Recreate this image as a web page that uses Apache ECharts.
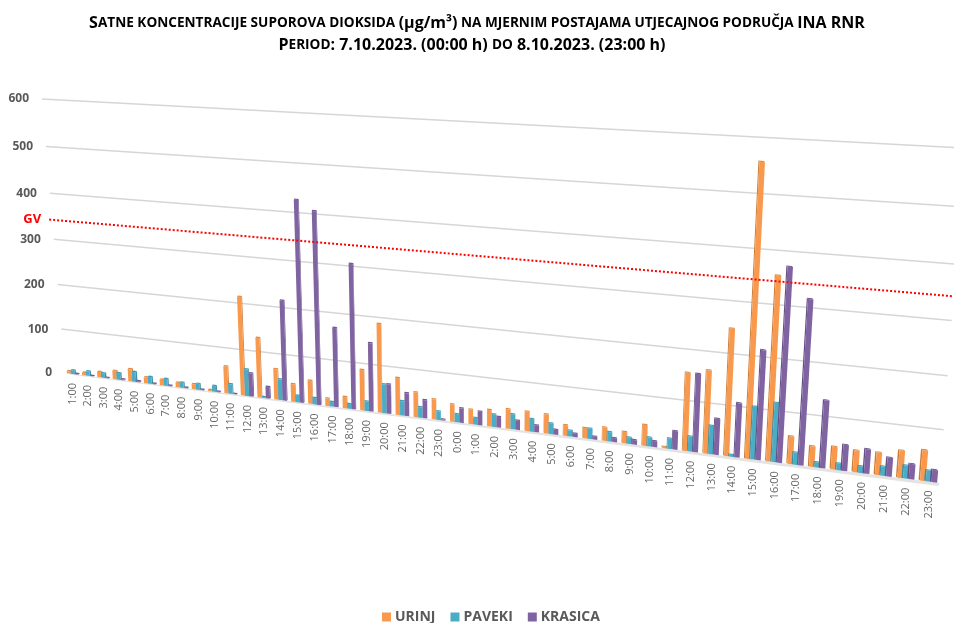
<!DOCTYPE html>
<html>
<head>
<meta charset="utf-8">
<style>html,body{margin:0;padding:0;background:#fff}#c{width:954px;height:623px}</style>
<script src="https://cdn.jsdelivr.net/npm/echarts@6/dist/echarts.min.js"></script>
</head>
<body>
<div id="c"></div>
<script>
const categories = ['1:00','2:00','3:00','4:00','5:00','6:00','7:00','8:00','9:00','10:00','11:00','12:00','13:00','14:00','15:00','16:00','17:00','18:00','19:00','20:00','21:00','22:00','23:00',
  '0:00','1:00','2:00','3:00','4:00','5:00','6:00','7:00','8:00','9:00','10:00','11:00','12:00','13:00','14:00','15:00','16:00','17:00','18:00','19:00','20:00','21:00','22:00','23:00'];
const urinj = [5,6,12,19,27,13,12,10,11,3,59,213,129,66,38,50,16,24,86,186,78,52,42,
  36,30,34,40,40,39,22,21,27,23,42,3,154,163,247,556,353,54,40,44,42,43,52,58];
const paveki = [8,10,10,15,22,15,15,11,13,13,21,58,2,45,14,14,10,10,20,61,30,22,18,
  17,14,26,31,26,22,12,21,19,13,18,21,30,56,4,103,115,24,10,13,13,18,25,21];
const krasica = [1,1,1,2,2,1,1,1,1,1,1,50,25,214,425,405,168,304,144,62,48,38,2,
  30,28,22,19,14,10,7,6,8,9,12,37,154,71,106,212,371,315,130,50,47,36,29,23];
const yTicks = [0,100,200,300,400,500,600];
const limitValue = 343;
const limitLabel = 'GV';
const seriesNames = ['URINJ','PAVEKI','KRASICA'];
const titleLine1 = '{b|S}{s|ATNE KONCENTRACIJE SUPOROVA DIOKSIDA }{b|(µg/m³)}{s| NA MJERNIM POSTAJAMA UTJECAJNOG PODRUČJA }{b|INA RNR}';
const titleLine2 = '{b|P}{s|ERIOD}{b|: 7.10.2023. (00:00 h) }{s|DO}{b| 8.10.2023. (23:00 h)}';

// Perspective of the chart wall: where the flat plot rectangle lands on the page.
const wall = {tl:[42,99], tr:[964,148], br:[940,483], bl:[65,373]};
const flat = {left:100, top:100, width:700, height:400};
const H = (function(){
  const [x0,y0]=wall.tl,[x1,y1]=wall.tr,[x2,y2]=wall.br,[x3,y3]=wall.bl;
  const dx1=x1-x2,dx2=x3-x2,sx=x0-x1+x2-x3,dy1=y1-y2,dy2=y3-y2,sy=y0-y1+y2-y3;
  const den=dx1*dy2-dx2*dy1;
  const g=(sx*dy2-dx2*sy)/den,h=(dx1*sy-sx*dy1)/den;
  const a=x1-x0+g*x1,b=x3-x0+h*x3,c=x0,d=y1-y0+g*y1,e=y3-y0+h*y3,f=y0;
  return (u,v)=>{const w=g*u+h*v+1;return [(a*u+b*v+c)/w,(d*u+e*v+f)/w];};
})();
const toU = px => (px-flat.left)/flat.width;
const toV = py => (py-flat.top)/flat.height;

const TEXT='#595959', FONT='"Open Sans",sans-serif';
const palette = [
  {front:'#F9994D', side:'#CC7C36', top:'#DE8A3E'},
  {front:'#4BACC6', side:'#3A8FA6', top:'#3F9BB3'},
  {front:'#8064A2', side:'#664E86', top:'#705892'}
];
const BAR=0.25;

function barItem(k){
  return function(params,api){
    const c=api.coord([api.value(0),api.value(1)]);
    const band=api.size([1,0])[0];
    const center=toU(c[0])+(k-1)*BAR*band/flat.width;
    const half=BAR*band/flat.width/2;
    const u1=center-half,u2=center+half,vt=toV(c[1]);
    const lean=4*(1-vt);
    const a=H(u1,1),b=H(u2,1);
    const t2=H(u2,vt),t1=H(u1,vt);
    t1[0]+=lean;t2[0]+=lean;
    const ddx=(0.5-center)*3, ddy=-1.2;
    const sh=p=>[p[0]+ddx,p[1]+ddy];
    const e=ddx>=0?[b,t2]:[a,t1];
    const col=palette[k];
    return {type:'group',children:[
      {type:'polygon',shape:{points:[e[0],e[1],sh(e[1]),sh(e[0])]},style:{fill:col.side}},
      {type:'polygon',shape:{points:[t1,t2,sh(t2),sh(t1)]},style:{fill:col.top}},
      {type:'polygon',shape:{points:[a,b,t2,t1]},style:{fill:col.front}}
    ]};
  };
}

const barSeries = [urinj,paveki,krasica].map((vals,k)=>({
  name:seriesNames[k], type:'custom', coordinateSystem:'cartesian2d', z:5,
  itemStyle:{color:palette[k].front}, encode:{x:0,y:1},
  data:vals.map((v,i)=>[i,v]), renderItem:barItem(k), clip:false, silent:true
}));

const gridSeries = {
  name:'wall', type:'custom', z:1, encode:{x:0,y:1}, silent:true, clip:false,
  data:yTicks.map(t=>[0,t]),
  renderItem(p,api){
    const tick=api.value(1), v=toV(api.coord([0,tick])[1]);
    const L=H(0,v),R=H(1,v), children=[];
    if(tick===0){
      children.push({type:'polygon',shape:{points:[L,R,[R[0]-2,R[1]+3],[L[0]+8,L[1]+2]]},style:{fill:'#E3E3E3'}});
    }else{
      children.push({type:'line',shape:{x1:L[0],y1:L[1],x2:R[0],y2:R[1]},style:{stroke:'#D6D6D6',lineWidth:1.5}});
    }
    children.push({type:'text',style:{text:String(tick),x:L[0]-13,y:L[1],align:'right',verticalAlign:'middle',
      fill:TEXT,font:'700 12px '+FONT}});
    return {type:'group',children};
  }
};

const labelSeries = {
  name:'hours', type:'custom', z:2, encode:{x:0,y:1}, silent:true, clip:false,
  data:categories.map((c,i)=>[i,0]),
  renderItem(p,api){
    const i=api.value(0), c=api.coord([i,0]), P=H(toU(c[0]),1);
    return {type:'text',x:P[0]+0.5,y:P[1]+9,rotation:Math.PI/2,originX:0,originY:0,
      style:{text:categories[i],x:0,y:0,align:'right',verticalAlign:'middle',fill:'#666666',font:'11px '+FONT}};
  }
};

const limitSeries = {
  name:'limit', type:'custom', z:8, encode:{x:0,y:1}, silent:true, clip:false,
  data:[[0,limitValue]],
  renderItem(p,api){
    const v=toV(api.coord([0,api.value(1)])[1]), L=H(0,v), R=H(1,v);
    return {type:'group',children:[
      {type:'line',shape:{x1:L[0]-3,y1:L[1],x2:R[0],y2:R[1]},style:{stroke:'#FF0000',lineWidth:2,lineDash:[2,2]}},
      {type:'text',style:{text:limitLabel,x:L[0]-11,y:L[1],align:'right',verticalAlign:'middle',fill:'#FF0000',font:'700 13px '+FONT}}
    ]};
  }
};

const titleRich = {b:{fontFamily:FONT,fontWeight:700,fontSize:16,color:'#000'},s:{fontFamily:FONT,fontWeight:700,fontSize:13.6,color:'#000'}};

const chart = echarts.init(document.getElementById('c'),null,{renderer:'canvas'});
chart.setOption({
  animation:false,
  backgroundColor:'#fff',
  title:[
    {text:titleLine1,left:472,top:10,textAlign:'center',textStyle:{rich:titleRich}},
    {text:titleLine2,left:467,top:32,textAlign:'center',textStyle:{rich:titleRich}}
  ],
  grid:{left:flat.left,top:flat.top,width:flat.width,height:flat.height},
  xAxis:{type:'category',data:categories,show:false},
  yAxis:{type:'value',min:0,max:600,interval:100,show:false},
  legend:{data:seriesNames,left:377,top:605,icon:'rect',itemWidth:9,itemHeight:9,itemGap:15,
    textStyle:{color:TEXT,fontFamily:FONT,fontWeight:700,fontSize:14,padding:[0,0,0,-1]},selectedMode:false},
  series:[gridSeries,labelSeries].concat(barSeries,[limitSeries])
});
</script>
</body>
</html>
